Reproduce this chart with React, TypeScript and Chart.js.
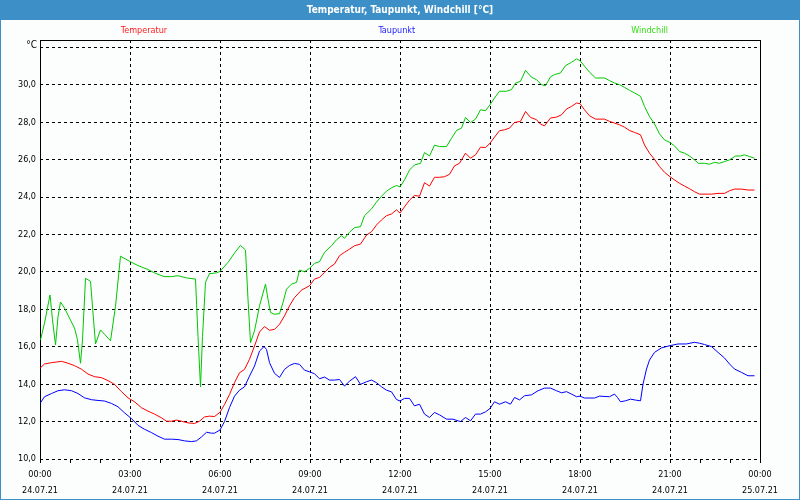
import React, { useEffect, useRef } from "react";
import { Chart, registerables } from "chart.js";

Chart.register(...registerables);

const TITLE = "Temperatur, Taupunkt, Windchill [°C]";
const SERIES_NAMES = ["Temperatur", "Taupunkt", "Windchill"];
const DATE_START = "24.07.21";
const DATE_END = "25.07.21";
const Y_UNIT = "°C";

// minutes since 00:00, 24.07.21
const tempMinutes = [0, 9, 23, 43, 56, 69, 83, 96, 109, 123, 136, 149, 163, 176, 189, 203, 216, 229, 243, 253, 263, 273, 283, 296, 309, 319, 329, 339, 349, 360, 369, 379, 389, 399, 409, 419, 429, 439, 449, 459, 469, 479, 489, 499, 509, 523, 539, 549, 559, 569, 579, 589, 599, 609, 619, 629, 641, 653, 663, 673, 683, 693, 703, 713, 720, 729, 739, 749, 759, 769, 779, 789, 799, 809, 819, 829, 839, 851, 861, 871, 881, 891, 900, 909, 919, 929, 939, 949, 961, 971, 981, 993, 1001, 1009, 1021, 1033, 1043, 1053, 1063, 1073, 1080, 1089, 1099, 1111, 1129, 1139, 1149, 1159, 1169, 1179, 1189, 1201, 1209, 1219, 1229, 1239, 1249, 1260, 1269, 1279, 1289, 1299, 1309, 1319, 1343, 1356, 1369, 1379, 1389, 1403, 1416, 1429];
const tempValues = [14.85, 15.08, 15.15, 15.22, 15.12, 14.99, 14.8, 14.54, 14.4, 14.35, 14.19, 13.99, 13.6, 13.27, 13.06, 12.74, 12.56, 12.4, 12.2, 12.02, 12.02, 12.08, 12.02, 11.93, 11.9, 12.02, 12.25, 12.29, 12.27, 12.5, 12.91, 13.45, 14.08, 14.61, 14.79, 15.33, 16.04, 16.79, 17.08, 16.88, 16.93, 17.2, 17.65, 18.19, 18.63, 19.03, 19.26, 19.62, 19.71, 19.97, 20.24, 20.42, 20.87, 21.05, 21.22, 21.4, 21.49, 21.97, 22.15, 22.51, 22.78, 23.01, 23.1, 23.32, 23.15, 23.48, 23.84, 24.09, 24.05, 24.77, 24.59, 25.06, 25.06, 25.09, 25.22, 25.67, 25.81, 26.35, 26.08, 26.26, 26.67, 26.65, 26.88, 27.21, 27.55, 27.6, 27.69, 27.99, 28.05, 28.58, 28.26, 28.14, 27.9, 27.81, 28.23, 28.28, 28.4, 28.71, 28.85, 29.03, 29.0, 28.67, 28.35, 28.17, 28.17, 28.05, 27.96, 27.87, 27.74, 27.56, 27.46, 27.33, 26.79, 26.35, 26.02, 25.63, 25.33, 25.09, 24.92, 24.74, 24.59, 24.45, 24.29, 24.16, 24.16, 24.2, 24.2, 24.34, 24.43, 24.43, 24.38, 24.38];

const dewMinutes = [0, 9, 23, 36, 49, 63, 76, 89, 103, 116, 129, 143, 156, 169, 183, 196, 209, 223, 236, 249, 263, 276, 289, 303, 313, 323, 333, 343, 349, 360, 369, 379, 389, 399, 409, 419, 429, 439, 448, 453, 459, 469, 479, 489, 499, 509, 519, 529, 539, 549, 559, 569, 579, 589, 599, 609, 619, 631, 641, 653, 663, 673, 683, 693, 703, 713, 720, 729, 739, 749, 759, 769, 779, 789, 799, 813, 826, 841, 851, 861, 871, 881, 891, 900, 909, 919, 931, 941, 949, 959, 969, 983, 996, 1009, 1021, 1033, 1043, 1053, 1063, 1073, 1080, 1089, 1109, 1119, 1139, 1149, 1155, 1161, 1171, 1181, 1191, 1201, 1206, 1213, 1219, 1229, 1243, 1260, 1276, 1293, 1309, 1319, 1329, 1343, 1356, 1369, 1379, 1389, 1403, 1416, 1429];
const dewValues = [12.97, 13.33, 13.5, 13.65, 13.7, 13.65, 13.5, 13.27, 13.17, 13.13, 13.1, 12.97, 12.79, 12.47, 12.16, 11.8, 11.59, 11.41, 11.22, 11.06, 11.06, 11.04, 10.97, 10.93, 10.97, 11.18, 11.43, 11.38, 11.38, 11.55, 12.0, 12.75, 13.36, 13.68, 13.86, 14.43, 14.97, 15.77, 16.01, 15.86, 15.15, 14.58, 14.36, 14.79, 15.0, 15.11, 15.06, 14.75, 14.66, 14.56, 14.29, 14.38, 14.22, 14.22, 14.25, 13.9, 14.16, 14.4, 13.99, 14.13, 14.22, 14.08, 13.86, 13.68, 13.59, 13.18, 13.1, 13.24, 13.24, 12.84, 12.93, 12.4, 12.22, 12.49, 12.36, 12.13, 12.13, 12.0, 12.22, 12.04, 12.4, 12.4, 12.52, 12.7, 13.06, 12.93, 13.06, 12.93, 13.29, 13.16, 13.38, 13.43, 13.65, 13.79, 13.79, 13.65, 13.54, 13.6, 13.47, 13.33, 13.36, 13.26, 13.26, 13.36, 13.33, 13.47, 13.29, 13.06, 13.11, 13.2, 13.15, 13.11, 14.0, 14.81, 15.29, 15.7, 15.94, 16.06, 16.15, 16.15, 16.24, 16.19, 16.12, 16.01, 15.7, 15.4, 15.08, 14.81, 14.63, 14.45, 14.45];

const chillMinutes = [1, 9, 20, 25, 31, 36, 41, 49, 59, 69, 75, 81, 85, 91, 101, 106, 111, 121, 129, 141, 151, 161, 179, 196, 216, 229, 248, 263, 276, 293, 311, 316, 321, 325, 331, 339, 353, 360, 376, 389, 401, 411, 416, 421, 429, 439, 451, 456, 461, 469, 479, 486, 493, 503, 513, 519, 529, 539, 549, 559, 569, 583, 593, 603, 609, 619, 629, 641, 649, 663, 673, 683, 693, 703, 713, 720, 729, 739, 749, 761, 769, 779, 789, 799, 813, 823, 833, 843, 851, 861, 871, 881, 891, 900, 909, 919, 933, 943, 951, 961, 971, 983, 993, 1003, 1011, 1021, 1029, 1041, 1051, 1063, 1073, 1080, 1089, 1099, 1111, 1129, 1139, 1149, 1159, 1169, 1179, 1189, 1201, 1209, 1219, 1229, 1239, 1249, 1260, 1269, 1279, 1289, 1299, 1309, 1317, 1329, 1339, 1349, 1359, 1369, 1379, 1391, 1401, 1409, 1419, 1429];
const chillValues = [16.37, 17.26, 18.77, 17.44, 16.1, 17.6, 18.39, 18.07, 17.53, 17.0, 16.37, 15.12, 16.37, 19.66, 19.5, 17.8, 16.15, 16.9, 16.67, 16.32, 18.16, 20.84, 20.57, 20.34, 20.13, 19.95, 19.75, 19.75, 19.8, 19.68, 19.62, 16.55, 13.86, 16.55, 19.45, 19.91, 19.95, 20.03, 20.51, 21.01, 21.42, 21.17, 18.54, 16.22, 16.85, 18.19, 19.35, 18.54, 17.83, 17.74, 17.77, 18.36, 19.08, 19.35, 19.44, 20.1, 20.01, 20.19, 20.46, 20.55, 21.05, 21.4, 21.72, 21.94, 21.8, 22.12, 22.37, 22.42, 23.01, 23.37, 23.73, 24.05, 24.32, 24.5, 24.62, 24.55, 24.92, 25.45, 25.72, 25.81, 26.38, 26.2, 26.78, 26.7, 26.7, 27.15, 27.56, 27.69, 28.26, 27.99, 28.17, 28.67, 28.62, 28.94, 29.3, 29.66, 29.66, 29.75, 30.1, 30.19, 30.78, 30.41, 30.28, 30.01, 29.96, 30.43, 30.55, 30.64, 31.03, 31.21, 31.39, 31.3, 31.0, 30.68, 30.37, 30.37, 30.23, 30.1, 30.01, 29.87, 29.71, 29.57, 29.39, 28.85, 28.31, 27.92, 27.38, 27.06, 26.92, 26.74, 26.44, 26.35, 26.2, 25.99, 25.81, 25.81, 25.76, 25.86, 25.81, 25.9, 25.99, 26.2, 26.2, 26.26, 26.17, 26.08];

const Y_MIN = 10;
const Y_MAX = 32.4;
const Y_STEP = 2;
const X_MIN = 0;
const X_MAX = 1440;
const X_MINOR = 60;
const X_MAJOR = 180;

const FONT = "'DejaVu Sans Condensed', 'DejaVu Sans', sans-serif";
const LINE_COLORS = ["#ff0000", "#0000ff", "#00c800"];
const LEGEND_COLORS = ["#ff1a1a", "#1a1aff", "#33dd11"];
const LEGEND_X = [0.18, 0.496, 0.812];
const BAR_COLOR = "#3c8fc7";
const BG_COLOR = "#fcfefe";
const HEADER_H = 20;

const toPoints = (xs: number[], ys: number[]) => xs.map((x, i) => ({ x, y: ys[i] }));

const pad2 = (n: number) => String(n).padStart(2, "0");

const decorPlugin = {
  id: "decor",
  beforeDraw(chart: any) {
    const { ctx, width, height, chartArea } = chart;
    ctx.save();
    ctx.fillStyle = BG_COLOR;
    ctx.fillRect(0, 0, width, height);
    ctx.fillStyle = BAR_COLOR;
    ctx.fillRect(0, 0, width, HEADER_H);
    ctx.strokeStyle = BAR_COLOR;
    ctx.lineWidth = 1;
    ctx.strokeRect(0.5, 0.5, width - 1, height - 1);
    ctx.fillStyle = "#ffffff";
    ctx.font = `bold 10px ${FONT}`;
    ctx.textAlign = "center";
    ctx.textBaseline = "middle";
    ctx.fillText(TITLE, width / 2, HEADER_H / 2);
    ctx.font = `9px ${FONT}`;
    SERIES_NAMES.forEach((name, i) => {
      ctx.fillStyle = LEGEND_COLORS[i];
      ctx.fillText(name, width * LEGEND_X[i], 31);
    });
    ctx.fillStyle = "#000";
    ctx.textAlign = "right";
    ctx.font = `10px ${FONT}`;
    ctx.fillText(Y_UNIT, chartArea.left - 3, chartArea.top + 5);
    ctx.restore();
  },
  beforeDatasetsDraw(chart: any) {
    const { ctx, chartArea } = chart;
    const l = Math.round(chartArea.left) + 0.5;
    const r = Math.round(chartArea.right) + 0.5;
    const t = Math.round(chartArea.top) + 0.5;
    const b = Math.round(chartArea.bottom) + 0.5;
    ctx.save();
    ctx.strokeStyle = "#000";
    ctx.lineWidth = 1;
    ctx.beginPath();
    ctx.moveTo(l, b);
    ctx.lineTo(l, t);
    ctx.lineTo(r, t);
    ctx.lineTo(r, b);
    ctx.stroke();
    ctx.restore();
  },
};

export default function App() {
  const ref = useRef<HTMLCanvasElement | null>(null);
  useEffect(() => {
    if (!ref.current) return;
    Chart.defaults.font.family = FONT;
    Chart.defaults.color = "#000";
    const chart = new Chart(ref.current, {
      type: "line",
      data: {
        datasets: [
          { label: SERIES_NAMES[0], data: toPoints(tempMinutes, tempValues), borderColor: LINE_COLORS[0] },
          { label: SERIES_NAMES[1], data: toPoints(dewMinutes, dewValues), borderColor: LINE_COLORS[1] },
          { label: SERIES_NAMES[2], data: toPoints(chillMinutes, chillValues), borderColor: LINE_COLORS[2] },
        ].map((d) => ({ ...d, borderWidth: 1, pointRadius: 0, tension: 0, fill: false })),
      },
      options: {
        animation: false,
        responsive: false,
        events: [],
        layout: { padding: { left: 0, right: 40, top: 40, bottom: 0 } },
        plugins: { legend: { display: false }, title: { display: false }, tooltip: { enabled: false } },
        scales: {
          x: {
            type: "linear",
            min: X_MIN,
            max: X_MAX,
            afterFit: (s: any) => { s.height = 41; },
            border: { display: false, dash: [3, 3] },
            grid: {
              color: (c: any) => (c.tick && c.tick.value % X_MAJOR === 0 ? "#000" : "transparent"),
              tickColor: "#000",
              tickLength: 4,
              tickBorderDash: [],
            },
            ticks: {
              stepSize: X_MINOR,
              autoSkip: false,
              maxRotation: 0,
              padding: 4,
              font: { size: 9, lineHeight: 1.75 },
              color: "#000",
              callback: (v: any) => {
                const m = Number(v);
                if (m % X_MAJOR !== 0) return "";
                const hh = Math.floor(m / 60) % 24;
                return [`${pad2(hh)}:00`, m >= X_MAX ? DATE_END : DATE_START];
              },
            },
          },
          y: {
            min: Y_MIN,
            max: Y_MAX,
            afterFit: (s: any) => { s.width = 40; },
            border: { display: false, dash: [3, 3] },
            grid: { color: "#000", drawTicks: false },
            ticks: {
              stepSize: Y_STEP,
              includeBounds: false,
              padding: 4,
              font: { size: 9 },
              color: "#000",
              callback: (v: any) => (Number(v) >= 32 ? "" : Number(v).toFixed(1).replace(".", ",")),
            },
          },
        },
      },
      plugins: [decorPlugin],
    } as any);
    return () => chart.destroy();
  }, []);
  return (
    <div style={{ position: "absolute", left: 0, top: 0, width: 800, height: 500 }}>
      <canvas ref={ref} width={800} height={500} />
    </div>
  );
}
